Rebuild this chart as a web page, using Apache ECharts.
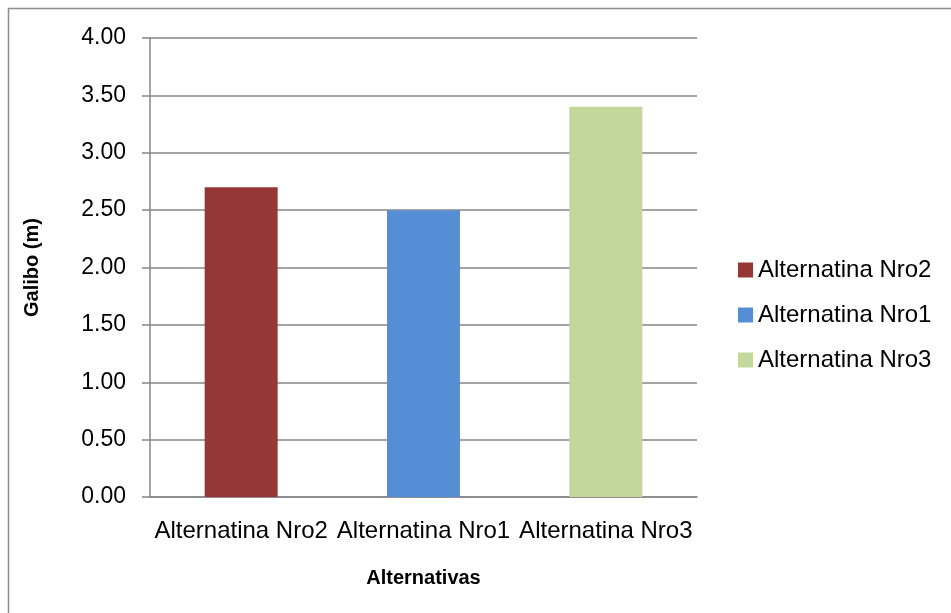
<!DOCTYPE html>
<html>
<head>
<meta charset="utf-8">
<script src="https://cdn.jsdelivr.net/npm/echarts@6/dist/echarts.min.js"></script>
<style>
  html, body { margin: 0; padding: 0; background: #fff; }
  #chart { width: 951px; height: 613px; }
</style>
</head>
<body>
<div id="chart"></div>
<script>
const categories = ['Alternatina Nro2', 'Alternatina Nro1', 'Alternatina Nro3'];
const seriesNames = ['Alternatina Nro2', 'Alternatina Nro1', 'Alternatina Nro3'];
const values = [2.70, 2.50, 3.40];
const colors = ['#953735', '#558ED5', '#C3D69B'];

const font = '"Liberation Sans", Arial, sans-serif';
const chart = echarts.init(document.getElementById('chart'), null, { renderer: 'canvas' });

chart.setOption({
    animation: false,
    backgroundColor: '#fff',
    graphic: [{
        type: 'rect',
        shape: { x: 8.5, y: 8.5, width: 1200, height: 1200 },
        style: { fill: 'none', stroke: '#8c8c8c', lineWidth: 1.5 },
        silent: true
    }],
    grid: { left: 150, right: 254, top: 38, bottom: 116 },
    legend: {
        orient: 'vertical',
        left: 738,
        top: 258,
        padding: 0,
        icon: 'rect',
        itemWidth: 15,
        itemHeight: 15,
        itemGap: 21,
        textStyle: { fontFamily: font, fontSize: 24, color: '#000' },
        data: seriesNames
    },
    xAxis: {
        type: 'category',
        data: categories,
        name: 'Alternativas',
        nameLocation: 'middle',
        nameGap: 71,
        nameTextStyle: { fontFamily: font, fontSize: 20, fontWeight: 'bold', color: '#000' },
        axisLine: { lineStyle: { color: '#868686', width: 1.5 } },
        axisTick: { show: false },
        axisLabel: { interval: 0, margin: 22, fontFamily: font, fontSize: 24, color: '#000' }
    },
    yAxis: {
        type: 'value',
        min: 0,
        max: 4,
        interval: 0.5,
        name: 'Galibo (m)',
        nameLocation: 'middle',
        nameGap: 108,
        nameTextStyle: { fontFamily: font, fontSize: 20, fontWeight: 'bold', color: '#000' },
        axisLine: { show: true, lineStyle: { color: '#868686', width: 1.5 } },
        axisTick: { show: true, length: 8, lineStyle: { color: '#868686', width: 1.5 } },
        axisLabel: {
            margin: 24,
            fontFamily: font,
            fontSize: 23,
            color: '#000',
            formatter: (v) => v.toFixed(2)
        },
        splitLine: { lineStyle: { color: '#868686', width: 1.5 } }
    },
    series: seriesNames.map((name, i) => ({
        name,
        type: 'bar',
        stack: 'all',
        barWidth: 73,
        itemStyle: { color: colors[i] },
        data: categories.map((c, j) => (j === i ? values[i] : null))
    }))
});
</script>
</body>
</html>
